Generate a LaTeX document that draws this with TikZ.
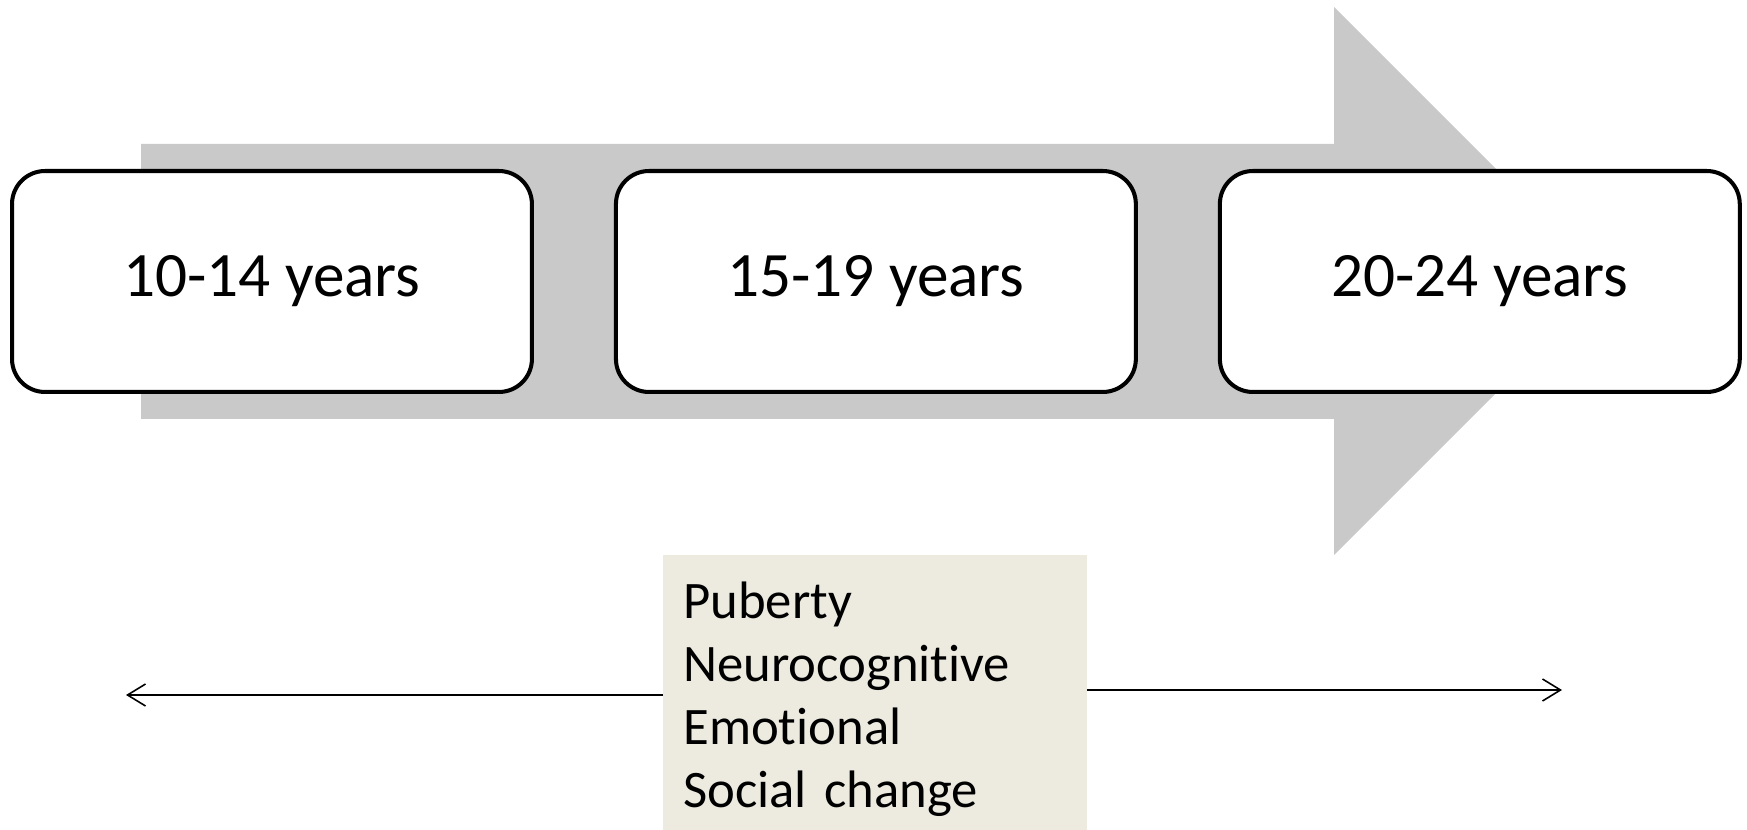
\documentclass[tikz,border=0pt]{standalone}
\usepackage{fontspec}
\setmainfont[Ligatures=NoCommon]{Carlito}
\usetikzlibrary{positioning,arrows.meta}

\definecolor{arrowgray}{RGB}{201,201,201}
\definecolor{factorfill}{RGB}{237,235,224}

\tikzset{
  agebox/.style={draw=black, line width=2.3pt, fill=white, rounded corners=0.66cm,
    minimum width=10.4cm, minimum height=4.42cm,
    font=\fontsize{36}{43}\selectfont},
  span/.style={-{Straight Barb[length=0.36cm,width=0.44cm,line width=0.9pt]}, line width=0.9pt},
}

\begin{document}
\begin{tikzpicture}[x=0.02cm, y=-0.02cm]

  \useasboundingbox (0,0) rectangle (1747,830);

  % ---- Big grey arrow behind the age groups ----
  \fill[arrowgray] (141,144) -- (1334,144) -- (1334,7) -- (1608,281)
    -- (1334,555) -- (1334,419) -- (141,419) -- cycle;

  % ---- Age groups ----
  \node[agebox, anchor=north west] (early) at (10,169) {10-14 years};
  \node[agebox, right=1.6cm of early] (middle) {15-19 years};
  \node[agebox, right=1.6cm of middle] (late) {20-24 years};

  % ---- Factors box ----
  \node[fill=factorfill, anchor=north west, minimum width=8.47cm, minimum height=5.5cm,
    text width=7.67cm, inner xsep=0.4cm, align=left,
    font=\fontsize{30}{36}\selectfont] (factors) at (663,555)
    {\rule{0pt}{28pt}Puberty\\Neurocognitive\\Emotional\\Social change};

  % ---- Double span arrows ----
  \coordinate (leftend) at (126,695);
  \coordinate (rightend) at (1562,690);
  \draw[span] (factors.west |- leftend) -- (leftend);
  \draw[span] (factors.east |- rightend) -- (rightend);

\end{tikzpicture}
\end{document}
